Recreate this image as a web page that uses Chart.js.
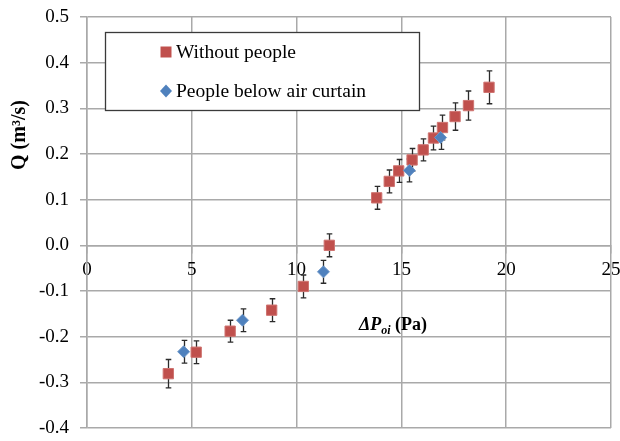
<!DOCTYPE html>
<html>
<head>
<meta charset="utf-8">
<script src="https://cdn.jsdelivr.net/npm/chart.js@4/dist/chart.umd.min.js"></script>
<style>
  html, body { margin: 0; padding: 0; background: #fff; }
  #wrap { width: 620px; height: 441px; }
</style>
</head>
<body>
<div id="wrap"><canvas id="c" width="620" height="441"></canvas></div>
<script>
// Flow rate Q against pressure difference, with and without people under the air curtain
const withoutDp  = [3.88, 5.21, 6.83, 8.81, 10.32, 11.56, 13.82, 14.42, 14.87, 15.51, 16.04, 16.53, 16.96, 17.56, 18.20, 19.18];
const withoutQ   = [-0.281, -0.234, -0.188, -0.142, -0.090, 0.000, 0.104, 0.140, 0.163, 0.187, 0.209, 0.235, 0.258, 0.282, 0.306, 0.346];
const withoutErr = [0.031, 0.025, 0.024, 0.025, 0.025, 0.025, 0.025, 0.025, 0.025, 0.025, 0.024, 0.026, 0.027, 0.030, 0.032, 0.036];

const peopleDp  = [4.61, 7.42, 11.28, 15.38, 16.87];
const peopleQ   = [-0.233, -0.164, -0.058, 0.164, 0.236];
const peopleErr = [0.025, 0.025, 0.025, 0.025, 0.026];

const xTicks = [0, 5, 10, 15, 20, 25];
const yTicks = [0.5, 0.4, 0.3, 0.2, 0.1, 0.0, -0.1, -0.2, -0.3, -0.4];

const seriesNames = ['Without people', 'People below air curtain'];

const RED = '#C0504D';
const BLUE = '#4F81BD';
const GRID = '#a9a9a9';
const SERIF = '"Liberation Serif", "Times New Roman", serif';

const toPoints = (xs, ys) => xs.map((x, i) => ({ x: x, y: ys[i] }));

// error bars, axis titles and the boxed legend
const extras = {
  id: 'extras',
  beforeDatasetsDraw(chart) {
    const ctx = chart.ctx;
    const xs = chart.scales.x, ys = chart.scales.y;
    ctx.save();
    ctx.strokeStyle = '#2b2b2b';
    ctx.lineWidth = 1.3;
    chart.data.datasets.forEach(ds => {
      ds.data.forEach((p, i) => {
        const e = ds.errors[i];
        const px = Math.round(xs.getPixelForValue(p.x)) + 0.5;
        const y1 = ys.getPixelForValue(p.y + e);
        const y2 = ys.getPixelForValue(p.y - e);
        ctx.beginPath();
        ctx.moveTo(px, y1); ctx.lineTo(px, y2);
        ctx.moveTo(px - 2.8, y1); ctx.lineTo(px + 2.8, y1);
        ctx.moveTo(px - 2.8, y2); ctx.lineTo(px + 2.8, y2);
        ctx.stroke();
      });
    });
    ctx.restore();
  },
  afterDraw(chart) {
    const ctx = chart.ctx;
    const a = chart.chartArea;
    ctx.save();

    // x-axis title: ΔPoi (Pa)
    const big = 'bold italic 18px ' + SERIF;
    const sub = 'bold italic 12px ' + SERIF;
    const tail = 'bold 18px ' + SERIF;
    ctx.font = big; const w1 = ctx.measureText('ΔP').width;
    ctx.font = sub; const w2 = ctx.measureText('oi').width;
    ctx.font = tail; const w3 = ctx.measureText(' (Pa)').width;
    let tx = a.left + 306 - (w1 + w2 + w3) / 2;
    const base = a.top + 313;
    ctx.fillStyle = '#000';
    ctx.textBaseline = 'alphabetic';
    ctx.textAlign = 'left';
    ctx.font = big; ctx.fillText('ΔP', tx, base); tx += w1;
    ctx.font = sub; ctx.fillText('oi', tx, base + 4); tx += w2;
    ctx.font = tail; ctx.fillText(' (Pa)', tx, base);

    // y-axis title
    ctx.save();
    ctx.translate(20, a.top + 118);
    ctx.rotate(-Math.PI / 2);
    ctx.font = 'bold 20px ' + SERIF;
    ctx.textAlign = 'center';
    ctx.textBaseline = 'middle';
    ctx.fillText('Q (m³/s)', 0, 0);
    ctx.restore();

    // legend box
    const lx = a.left + 18, ly = a.top + 15, lw = 314, lh = 78;
    ctx.fillStyle = '#fff';
    ctx.fillRect(lx, ly, lw, lh);
    ctx.strokeStyle = '#3a3a3a';
    ctx.lineWidth = 1.3;
    ctx.strokeRect(lx + 0.5, ly + 0.5, lw, lh);

    const rows = [ly + 20, ly + 59];
    chart.data.datasets.forEach((ds, i) => {
      const cy = rows[i];
      const cx = lx + 61;
      ctx.fillStyle = ds.backgroundColor;
      ctx.beginPath();
      if (ds.pointStyle === 'rect') {
        ctx.rect(cx - 5.5, cy - 5.5, 11, 11);
      } else {
        ctx.moveTo(cx, cy - 6.5); ctx.lineTo(cx + 6, cy);
        ctx.lineTo(cx, cy + 6.5); ctx.lineTo(cx - 6, cy);
        ctx.closePath();
      }
      ctx.fill();
      ctx.fillStyle = '#000';
      ctx.font = '19.5px ' + SERIF;
      ctx.textAlign = 'left';
      ctx.textBaseline = 'middle';
      ctx.fillText(ds.label, cx + 10, cy + 1);
    });
    ctx.restore();
  }
};

new Chart(document.getElementById('c'), {
  type: 'scatter',
  data: {
    datasets: [
      {
        label: seriesNames[0],
        data: toPoints(withoutDp, withoutQ),
        errors: withoutErr,
        pointStyle: 'rect',
        pointRadius: 7.3,
        pointHoverRadius: 7.3,
        backgroundColor: RED,
        borderColor: '#cf7471',
        borderWidth: 1,
        order: 1
      },
      {
        label: seriesNames[1],
        data: toPoints(peopleDp, peopleQ),
        errors: peopleErr,
        pointStyle: 'rectRot',
        pointRadius: 6,
        pointHoverRadius: 6,
        backgroundColor: BLUE,
        borderColor: '#6f98c9',
        borderWidth: 1,
        order: 0
      }
    ]
  },
  options: {
    responsive: false,
    animation: false,
    devicePixelRatio: 1,
    layout: { padding: { top: 17, right: 9, bottom: 13, left: 0 } },
    plugins: {
      legend: { display: false },
      tooltip: { enabled: false }
    },
    scales: {
      x: {
        type: 'linear',
        position: { y: 0 },
        min: 0,
        max: 25,
        afterBuildTicks: s => { s.ticks = xTicks.map(v => ({ value: v })); },
        afterFit: s => { s.paddingLeft = 0; s.paddingRight = 0; s.paddingTop = 0; s.paddingBottom = 0; },
        ticks: {
          color: '#000',
          font: { family: SERIF, size: 19 },
          padding: 6,
          maxRotation: 0,
          callback: v => String(v)
        },
        grid: { color: GRID, lineWidth: 1.5, tickLength: 7, drawTicks: true },
        border: { color: GRID, width: 1.5 }
      },
      y: {
        type: 'linear',
        min: -0.4,
        max: 0.5,
        afterBuildTicks: s => { s.ticks = yTicks.map(v => ({ value: v })); },
        afterFit: s => { s.width = 87; s.paddingTop = 0; s.paddingBottom = 0; s.paddingLeft = 0; s.paddingRight = 0; },
        ticks: {
          color: '#000',
          font: { family: SERIF, size: 19 },
          padding: 11,
          callback: v => (Math.abs(v) < 1e-9 ? 0 : v).toFixed(1)
        },
        grid: { color: GRID, lineWidth: 1.5, tickLength: 7 },
        border: { color: GRID, width: 1.5 }
      }
    }
  },
  plugins: [extras]
});
</script>
</body>
</html>
